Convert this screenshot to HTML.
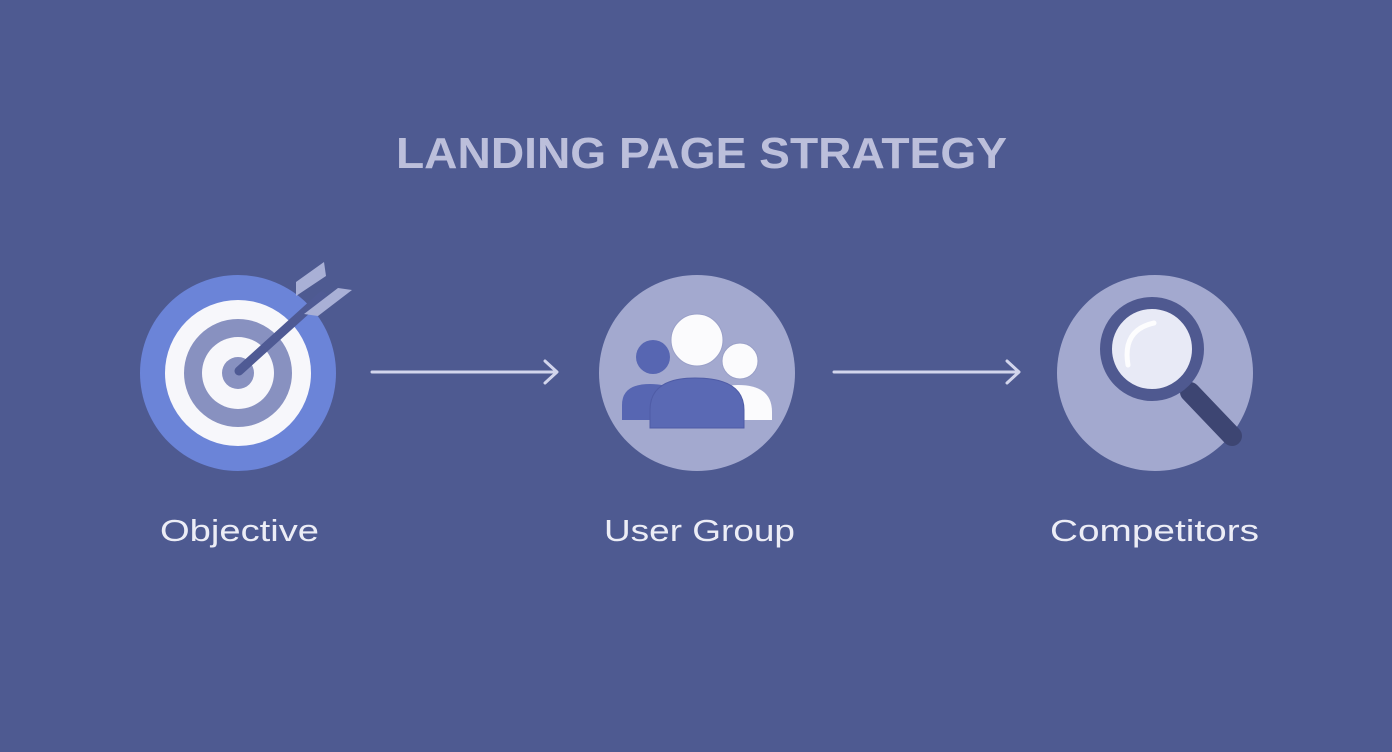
<!DOCTYPE html>
<html><head><meta charset="utf-8"><style>
html,body{margin:0;padding:0;background:#4e5a91;}
svg{display:block}
</style></head><body>
<svg width="1392" height="752" viewBox="0 0 1392 752" xmlns="http://www.w3.org/2000/svg">
<rect width="1392" height="752" fill="#4e5a91"/>
<text x="396" y="168" font-family="Liberation Sans, sans-serif" font-weight="bold" font-size="44" fill="#bcbfdb" textLength="611" lengthAdjust="spacingAndGlyphs">LANDING PAGE STRATEGY</text>

<!-- target -->
<circle cx="238" cy="373" r="98" fill="#6b84d8"/>
<circle cx="238" cy="373" r="73" fill="#f7f7fb"/>
<circle cx="238" cy="373" r="54" fill="#8891c0"/>
<circle cx="238" cy="373" r="36" fill="#f7f7fb"/>
<circle cx="238" cy="373" r="16" fill="#8891c0"/>
<line x1="239" y1="371" x2="322" y2="296" stroke="#4f5a94" stroke-width="9" stroke-linecap="round"/>
<polygon points="296,296 296,282 324,262 326,276" fill="#a9b0d6"/>
<polygon points="304,314 318,316 352,290 338,288" fill="#a9b0d6"/>

<!-- arrows -->
<g stroke="#d2d5ec" stroke-width="3" fill="none" stroke-linecap="round" stroke-linejoin="round">
<line x1="372" y1="372" x2="556" y2="372"/>
<polyline points="545,361 557,372 545,383"/>
<line x1="834" y1="372" x2="1018" y2="372"/>
<polyline points="1007,361 1019,372 1007,383"/>
</g>

<!-- users -->
<circle cx="697" cy="373" r="98" fill="#a3a9cf"/>
<circle cx="740" cy="361" r="18" fill="#fbfbfd" stroke="#9aa0c8" stroke-width="1"/>
<path d="M712,420 L712,405 Q712,385 738,385 Q772,385 772,412 L772,420 Z" fill="#fbfbfd"/>
<circle cx="653" cy="357" r="17" fill="#5766b2"/>
<path d="M622,420 L622,405 Q622,384 650,384 Q680,384 680,405 L680,420 Z" fill="#5766b2"/>
<circle cx="697" cy="340" r="26" fill="#fbfbfd" stroke="#9aa0c8" stroke-width="1"/>
<path d="M650,428 L650,410 Q650,378 695,378 Q744,378 744,410 L744,428 Z" fill="#5a69b4" stroke="#4f5ca6" stroke-width="1"/>

<!-- magnifier -->
<circle cx="1155" cy="373" r="98" fill="#a3a9cf"/>
<line x1="1190" y1="392" x2="1232" y2="436" stroke="#3d4572" stroke-width="20" stroke-linecap="round"/>
<line x1="1182" y1="382" x2="1200" y2="400" stroke="#3d4572" stroke-width="12"/>
<circle cx="1152" cy="349" r="46" fill="#e8eaf6" stroke="#4f5990" stroke-width="12"/>
<path d="M1128,365 Q1122,330 1154,323" stroke="#ffffff" stroke-width="5" fill="none" stroke-linecap="round" opacity="0.9"/>

<!-- labels -->
<g font-family="Liberation Sans, sans-serif" font-size="31" fill="#ecedf6">
<text x="160" y="541" textLength="159" lengthAdjust="spacingAndGlyphs">Objective</text>
<text x="604" y="541" textLength="191" lengthAdjust="spacingAndGlyphs">User Group</text>
<text x="1050" y="541" textLength="209" lengthAdjust="spacingAndGlyphs">Competitors</text>
</g>
</svg>
</body></html>
